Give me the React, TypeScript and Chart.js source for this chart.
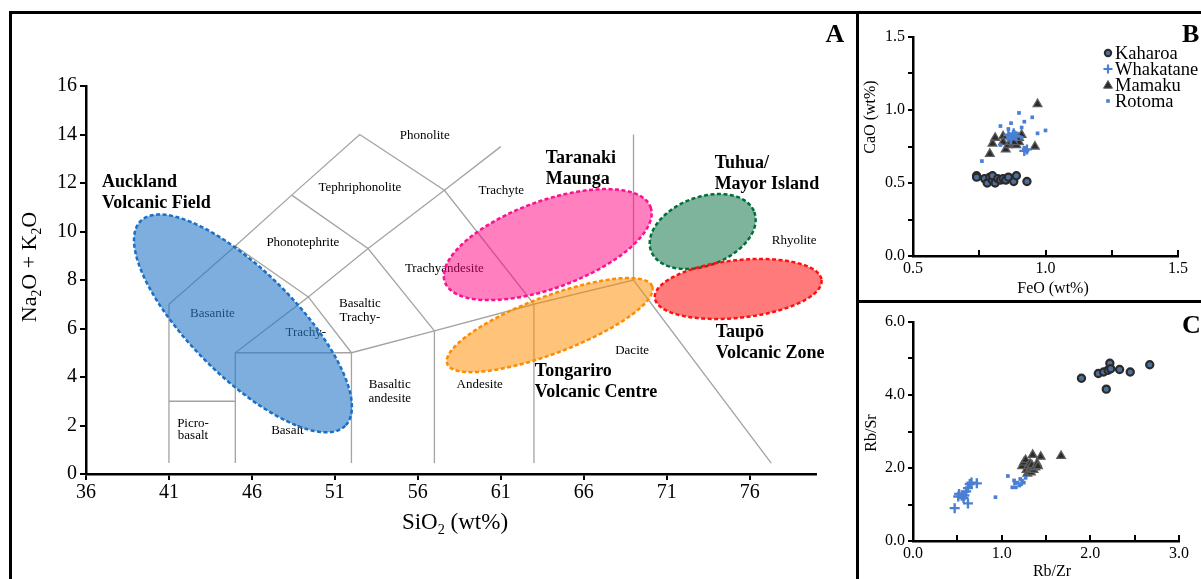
import React, { useEffect, useRef } from "react";
import { Chart, registerables } from "chart.js";
Chart.register(...registerables);

const SERIF = "'Liberation Serif', 'Times New Roman', Times, serif";

// ---------- Panel A : TAS diagram ----------
const TAS_X_TICKS = [36, 41, 46, 51, 56, 61, 66, 71, 76];
const TAS_Y_TICKS = [0, 2, 4, 6, 8, 10, 12, 14, 16];

const TAS_BOUNDARIES: number[][][] = [
  [[41, 0.45], [41, 7], [45, 9.4], [48.4, 11.5], [52.5, 14], [57.6, 11.7], [63, 7], [69, 8], [77.3, 0.45]],
  [[41, 3], [45, 3]],
  [[45, 0.45], [45, 5], [52, 5], [52, 0.45]],
  [[45, 5], [49.4, 7.3], [52, 5]],
  [[45, 9.4], [49.4, 7.3], [53, 9.3], [57.6, 11.7], [61, 13.5]],
  [[48.4, 11.5], [53, 9.3], [57, 5.9]],
  [[52, 5], [57, 5.9], [63, 7]],
  [[57, 0.45], [57, 5.9]],
  [[63, 0.45], [63, 7]],
  [[69, 8], [69, 14]],
];

const FIELD_NAMES = ["Phonolite", "Tephriphonolite", "Phonotephrite", "Trachyte", "Trachyandesite", "Basaltic", "Trachy-", "Trachy-", "Basanite", "Picro-", "basalt", "Basalt", "Basaltic", "andesite", "Andesite", "Dacite", "Rhyolite"];
const FIELD_SIO2 = [56.42, 52.51, 49.07, 61.03, 57.6, 52.51, 52.51, 49.25, 43.62, 42.45, 42.45, 48.14, 54.31, 54.31, 59.73, 68.92, 78.68];
const FIELD_ALK = [13.94, 11.81, 9.54, 11.67, 8.49, 7.01, 6.46, 5.83, 6.63, 2.09, 1.57, 1.77, 3.67, 3.09, 3.67, 5.07, 9.61];

const GROUP_NAMES = [["Auckland", "Volcanic Field"], ["Taranaki", "Maunga"], ["Tuhua/", "Mayor Island"], ["Taupō", "Volcanic Zone"], ["Tongariro", "Volcanic Centre"]];
const GROUP_SIO2 = [36.96, 63.71, 73.89, 73.95, 63.05];
const GROUP_ALK = [12.04, 13.03, 12.82, 5.86, 4.25];

// ellipses: centre and two conjugate semi-diameters (data units)
const ELLIPSE_CENTRES = [[45.46, 6.21], [63.83, 9.46], [73.17, 10.0], [75.31, 7.63], [63.95, 6.14]];
const ELLIPSE_U = [[6.17, -4.22], [6.2, 1.544], [3.108, 0.808], [5.025, 0.368], [6.176, 1.598]];
const ELLIPSE_V = [[-2.25, -1.54], [0.898, -1.69], [0.7316, -1.318], [0.1844, -1.181], [0.607, -1.099]];
const ELLIPSE_FILLS = ["rgba(40,120,200,0.6)", "rgba(255,0,128,0.5)", "rgba(0,106,58,0.5)", "rgba(255,0,0,0.52)", "rgba(255,140,0,0.52)"];
const ELLIPSE_STROKES = ["#1a6fc6", "#ff0f8f", "#00703a", "#ff1010", "#ff8c00"];

// ---------- Panel B : FeO vs CaO ----------
const B_KAHAROA_FEO = [0.74, 0.74, 0.77, 0.78, 0.79, 0.8, 0.8, 0.81, 0.82, 0.83, 0.84, 0.85, 0.86, 0.88, 0.89, 0.93];
const B_KAHAROA_CAO = [0.55, 0.54, 0.53, 0.5, 0.54, 0.52, 0.55, 0.5, 0.53, 0.52, 0.53, 0.52, 0.54, 0.51, 0.55, 0.51];
const B_WHAKATANE_FEO = [0.86, 0.88, 0.87, 0.92, 0.93, 0.89];
const B_WHAKATANE_CAO = [0.83, 0.84, 0.8, 0.72, 0.73, 0.82];
const B_MAMAKU_FEO = [0.79, 0.8, 0.81, 0.84, 0.84, 0.85, 0.86, 0.87, 0.88, 0.88, 0.89, 0.89, 0.9, 0.9, 0.91, 0.88, 0.96, 0.97];
const B_MAMAKU_CAO = [0.7, 0.77, 0.81, 0.82, 0.78, 0.73, 0.76, 0.78, 0.8, 0.77, 0.79, 0.76, 0.78, 0.81, 0.83, 0.78, 0.75, 1.04];
const B_ROTOMA_FEO = [0.76, 0.83, 0.86, 0.87, 0.9, 0.91, 0.92, 0.95, 0.97, 1.0, 0.93, 0.92, 0.86, 0.88, 0.83, 0.91];
const B_ROTOMA_CAO = [0.65, 0.89, 0.87, 0.91, 0.98, 0.88, 0.92, 0.95, 0.84, 0.86, 0.72, 0.74, 0.82, 0.85, 0.76, 0.81];

// ---------- Panel C : Rb/Zr vs Rb/Sr ----------
const C_KAHAROA_RBZR = [1.9, 2.09, 2.15, 2.2, 2.22, 2.23, 2.18, 2.33, 2.45, 2.67];
const C_KAHAROA_RBSR = [4.46, 4.59, 4.63, 4.68, 4.87, 4.72, 4.16, 4.7, 4.63, 4.83];
const C_WHAKATANE_RBZR = [0.47, 0.51, 0.52, 0.55, 0.57, 0.58, 0.6, 0.62, 0.62, 0.64, 0.66, 0.72];
const C_WHAKATANE_RBSR = [0.9, 1.22, 1.29, 1.24, 1.18, 1.25, 1.36, 1.03, 1.45, 1.56, 1.6, 1.58];
const C_MAMAKU_RBZR = [1.23, 1.25, 1.27, 1.28, 1.29, 1.3, 1.31, 1.32, 1.33, 1.33, 1.34, 1.35, 1.36, 1.38, 1.4, 1.41, 1.44, 1.67];
const C_MAMAKU_RBSR = [2.05, 2.15, 2.22, 1.95, 1.85, 2.05, 1.9, 2.12, 1.98, 1.88, 2.08, 2.36, 1.95, 2.02, 2.12, 2.05, 2.31, 2.33];
const C_ROTOMA_RBZR = [0.93, 1.07, 1.12, 1.14, 1.15, 1.16, 1.18, 1.2, 1.21, 1.22, 1.23, 1.25, 1.27];
const C_ROTOMA_RBSR = [1.2, 1.78, 1.47, 1.66, 1.58, 1.47, 1.6, 1.52, 1.7, 1.56, 1.65, 1.6, 1.73];

const LEGEND_NAMES = ["Kaharoa", "Whakatane", "Mamaku", "Rotoma"];

const zip = (xs: number[], ys: number[]) => xs.map((x, i) => ({ x, y: ys[i] }));

type Part = { t: string; sub?: boolean };
function drawRich(ctx: CanvasRenderingContext2D, parts: Part[], x: number, y: number, size: number, rotate: boolean) {
  ctx.save();
  ctx.translate(x, y);
  if (rotate) ctx.rotate(-Math.PI / 2);
  const subSize = size * 0.62;
  const widths = parts.map((p) => {
    ctx.font = `${p.sub ? subSize : size}px ${SERIF}`;
    return ctx.measureText(p.t).width;
  });
  const total = widths.reduce((a, b) => a + b, 0);
  let cx = -total / 2;
  ctx.textBaseline = "middle";
  ctx.textAlign = "left";
  ctx.fillStyle = "#000";
  parts.forEach((p, i) => {
    ctx.font = `${p.sub ? subSize : size}px ${SERIF}`;
    ctx.fillText(p.t, cx, p.sub ? size * 0.33 : 0);
    cx += widths[i];
  });
  ctx.restore();
}

const axisBase = (fontSize: number) => ({
  border: { display: true, color: "#000", width: 2.5 },
  ticks: { color: "#000", font: { family: SERIF, size: fontSize }, autoSkip: false, maxRotation: 0 },
});

function buildA(): any {
  const annot = {
    id: "tasAnnot",
    afterDatasetsDraw(chart: any) {
      const { ctx, scales } = chart;
      const xs = scales.x, ys = scales.y;
      ctx.save();
      ctx.fillStyle = "#000";
      ctx.textAlign = "center";
      ctx.textBaseline = "middle";
      ctx.font = `13px ${SERIF}`;
      FIELD_NAMES.forEach((n, i) => ctx.fillText(n, xs.getPixelForValue(FIELD_SIO2[i]), ys.getPixelForValue(FIELD_ALK[i])));
      ELLIPSE_CENTRES.forEach((c, k) => {
        const u = ELLIPSE_U[k], v = ELLIPSE_V[k];
        ctx.beginPath();
        const N = 160;
        for (let i = 0; i <= N; i++) {
          const t = (i / N) * Math.PI * 2;
          const dx = c[0] + u[0] * Math.cos(t) + v[0] * Math.sin(t);
          const dy = c[1] + u[1] * Math.cos(t) + v[1] * Math.sin(t);
          const px = xs.getPixelForValue(dx), py = ys.getPixelForValue(dy);
          if (i === 0) ctx.moveTo(px, py); else ctx.lineTo(px, py);
        }
        ctx.closePath();
        ctx.fillStyle = ELLIPSE_FILLS[k];
        ctx.fill();
        ctx.setLineDash([4, 2.5]);
        ctx.lineWidth = 2.5;
        ctx.strokeStyle = ELLIPSE_STROKES[k];
        ctx.stroke();
        ctx.setLineDash([]);
      });
      ctx.fillStyle = "#000";
      ctx.textAlign = "left";
      ctx.font = `bold 18px ${SERIF}`;
      GROUP_NAMES.forEach((lines, i) => {
        const px = xs.getPixelForValue(GROUP_SIO2[i]);
        const py = ys.getPixelForValue(GROUP_ALK[i]);
        lines.forEach((l, j) => ctx.fillText(l, px, py + j * 21.5));
      });
      ctx.font = `bold 26px ${SERIF}`;
      ctx.textAlign = "center";
      ctx.fillText("A", 823, 21);
      ctx.restore();
      const ca = chart.chartArea;
      drawRich(ctx, [{ t: "Na" }, { t: "2", sub: true }, { t: "O + K" }, { t: "2", sub: true }, { t: "O" }], ca.left - 56, (ca.top + ca.bottom) / 2 - 13, 22, true);
      drawRich(ctx, [{ t: "SiO" }, { t: "2", sub: true }, { t: " (wt%)" }], 443, ca.bottom + 49, 23, false);
    },
  };
  return {
    type: "scatter",
    data: {
      datasets: TAS_BOUNDARIES.map((seg) => ({
        data: seg.map((p) => ({ x: p[0], y: p[1] })),
        showLine: true,
        borderColor: "#a3a3a3",
        borderWidth: 1.3,
        pointRadius: 0,
        tension: 0,
        fill: false,
      })),
    },
    options: {
      responsive: false,
      animation: false,
      events: [],
      layout: { padding: { left: 24, right: 39, top: 72, bottom: 65 }, autoPadding: false },
      plugins: { legend: { display: false }, tooltip: { enabled: false } },
      scales: {
        x: {
          type: "linear",
          min: 36,
          max: 80,
          ...axisBase(20),
          ticks: { ...axisBase(20).ticks, padding: 1 },
          grid: { display: true, drawOnChartArea: false, drawTicks: true, tickLength: 6, tickColor: "#000", lineWidth: 2 },
          afterBuildTicks: (s: any) => { s.ticks = TAS_X_TICKS.map((v) => ({ value: v })); },
          afterFit: (s: any) => { s.height = 40; },
        },
        y: {
          type: "linear",
          min: 0,
          max: 16,
          ...axisBase(20),
          ticks: { ...axisBase(20).ticks, padding: 3 },
          grid: { display: true, drawOnChartArea: false, drawTicks: true, tickLength: 6, tickColor: "#000", lineWidth: 2 },
          afterBuildTicks: (s: any) => { s.ticks = TAS_Y_TICKS.map((v) => ({ value: v })); },
          afterFit: (s: any) => { s.width = 50; },
        },
      },
    },
    plugins: [annot],
  };
}

function scatterDatasets(k: any[], w: any[], m: any[], r: any[]) {
  return [
    { label: "Rotoma", data: r, pointStyle: "rect", pointRadius: 2.6, backgroundColor: "#4a7fd4", borderColor: "#4a7fd4", borderWidth: 0 },
    { label: "Whakatane", data: w, pointStyle: "cross", pointRadius: 5, backgroundColor: "#4a7fd4", borderColor: "#4a7fd4", borderWidth: 2.4 },
    { label: "Mamaku", data: m, pointStyle: "triangle", pointRadius: 5, backgroundColor: "#2b2b2b", borderColor: "#5e5e5e", borderWidth: 1.3 },
    { label: "Kaharoa", data: k, pointStyle: "circle", pointRadius: 3.6, backgroundColor: "#4d6f9a", borderColor: "#2a2a2a", borderWidth: 2.2 },
  ];
}

function drawMarker(ctx: CanvasRenderingContext2D, kind: number, x: number, y: number) {
  ctx.save();
  if (kind === 0) {
    ctx.beginPath(); ctx.arc(x, y, 3.2, 0, Math.PI * 2);
    ctx.fillStyle = "#4d6f9a"; ctx.fill(); ctx.lineWidth = 2; ctx.strokeStyle = "#2a2a2a"; ctx.stroke();
  } else if (kind === 1) {
    ctx.strokeStyle = "#4a7fd4"; ctx.lineWidth = 2.2;
    ctx.beginPath(); ctx.moveTo(x - 4.5, y); ctx.lineTo(x + 4.5, y); ctx.moveTo(x, y - 4.5); ctx.lineTo(x, y + 4.5); ctx.stroke();
  } else if (kind === 2) {
    ctx.beginPath(); ctx.moveTo(x, y - 4.5); ctx.lineTo(x + 4.5, y + 3.2); ctx.lineTo(x - 4.5, y + 3.2); ctx.closePath();
    ctx.fillStyle = "#2b2b2b"; ctx.fill(); ctx.strokeStyle = "#5e5e5e"; ctx.lineWidth = 1; ctx.stroke();
  } else {
    ctx.fillStyle = "#4a7fd4"; ctx.fillRect(x - 1.8, y - 1.8, 3.6, 3.6);
  }
  ctx.restore();
}

function inwardTicks(chart: any) {
  const xs = chart.scales.x, ctx = chart.ctx, b = chart.chartArea.bottom;
  ctx.save();
  ctx.strokeStyle = "#000";
  ctx.lineWidth = 2;
  xs.ticks.forEach((t: any) => {
    const px = Math.round(xs.getPixelForValue(t.value));
    ctx.beginPath(); ctx.moveTo(px, b); ctx.lineTo(px, b - 6); ctx.stroke();
  });
  ctx.restore();
}

function smallScatter(datasets: any[], xr: number[], yr: number[], xStep: number, yStep: number, xLab: number, yLab: number, pad: any, extra: (chart: any) => void): any {
  const lab = (every: number) => (v: any) => {
    const n = Number(v) / every;
    return Math.abs(n - Math.round(n)) < 1e-6 ? Number(v).toFixed(1) : "";
  };
  return {
    type: "scatter",
    data: { datasets },
    options: {
      responsive: false,
      animation: false,
      events: [],
      layout: { padding: pad, autoPadding: false },
      plugins: { legend: { display: false }, tooltip: { enabled: false } },
      scales: {
        x: {
          type: "linear", min: xr[0], max: xr[1],
          ...axisBase(16),
          ticks: { ...axisBase(16).ticks, stepSize: xStep, padding: 3, callback: lab(xLab) },
          grid: { display: false, drawTicks: false, tickLength: 0 },
          afterFit: (s: any) => { s.height = 30; },
        },
        y: {
          type: "linear", min: yr[0], max: yr[1],
          ...axisBase(16),
          ticks: { ...axisBase(16).ticks, stepSize: yStep, padding: 3, callback: lab(yLab) },
          grid: { display: true, drawOnChartArea: false, drawTicks: true, tickLength: 5, tickColor: "#000", lineWidth: 2 },
          afterFit: (s: any) => { s.width = 40; },
        },
      },
    },
    plugins: [{ id: "extra", afterDraw: (chart: any) => { inwardTicks(chart); extra(chart); } }],
  };
}

function buildB(): any {
  const ds = scatterDatasets(zip(B_KAHAROA_FEO, B_KAHAROA_CAO), zip(B_WHAKATANE_FEO, B_WHAKATANE_CAO), zip(B_MAMAKU_FEO, B_MAMAKU_CAO), zip(B_ROTOMA_FEO, B_ROTOMA_CAO));
  return smallScatter(ds, [0.5, 1.5], [0, 1.5], 0.25, 0.25, 0.5, 0.5, { left: 14, right: 23, top: 23, bottom: 14 }, (chart) => {
    const ctx = chart.ctx;
    drawRich(ctx, [{ t: "CaO (wt%)" }], 12, 103, 16, true);
    drawRich(ctx, [{ t: "FeO (wt%)" }], 194, 275, 16, false);
    ctx.save();
    ctx.fillStyle = "#000";
    ctx.font = `bold 26px ${SERIF}`;
    ctx.textAlign = "left";
    ctx.textBaseline = "middle";
    ctx.fillText("B", 323, 21);
    ctx.font = `18.5px ${SERIF}`;
    LEGEND_NAMES.forEach((n, i) => {
      const y = 39 + i * 16;
      drawMarker(ctx, i, 249, y);
      ctx.fillStyle = "#000";
      ctx.fillText(n, 256, y + 1);
    });
    ctx.restore();
  });
}

function buildC(): any {
  const ds = scatterDatasets(zip(C_KAHAROA_RBZR, C_KAHAROA_RBSR), zip(C_WHAKATANE_RBZR, C_WHAKATANE_RBSR), zip(C_MAMAKU_RBZR, C_MAMAKU_RBSR), zip(C_ROTOMA_RBZR, C_ROTOMA_RBSR));
  return smallScatter(ds, [0, 3], [0, 6], 0.5, 1, 1, 2, { left: 14, right: 22, top: 19, bottom: 8 }, (chart) => {
    const ctx = chart.ctx;
    drawRich(ctx, [{ t: "Rb/Sr" }], 13, 130, 16, true);
    drawRich(ctx, [{ t: "Rb/Zr" }], 193, 269, 16, false);
    ctx.save();
    ctx.fillStyle = "#000";
    ctx.font = `bold 26px ${SERIF}`;
    ctx.textAlign = "left";
    ctx.textBaseline = "middle";
    ctx.fillText("C", 323, 23);
    ctx.restore();
  });
}

export default function App() {
  const refA = useRef<HTMLCanvasElement>(null);
  const refB = useRef<HTMLCanvasElement>(null);
  const refC = useRef<HTMLCanvasElement>(null);
  useEffect(() => {
    const a = new Chart(refA.current!, buildA());
    const b = new Chart(refB.current!, buildB());
    const c = new Chart(refC.current!, buildC());
    return () => { a.destroy(); b.destroy(); c.destroy(); };
  }, []);
  const abs = (l: number, t: number, w: number, h: number): React.CSSProperties => ({ position: "absolute", left: l, top: t, width: w, height: h });
  return (
    <div style={{ position: "fixed", left: 0, top: 0, width: 1201, height: 579, background: "#fff", overflow: "hidden" }}>
      <div style={{ ...abs(9, 11, 1192, 3), background: "#000" }} />
      <div style={{ ...abs(9, 11, 3, 568), background: "#000" }} />
      <div style={{ ...abs(856, 11, 3, 568), background: "#000" }} />
      <div style={{ ...abs(856, 300, 345, 3), background: "#000" }} />
      <canvas ref={refA} width={843} height={565} style={{ ...abs(12, 14, 843, 565), display: "block" }} />
      <canvas ref={refB} width={342} height={286} style={{ ...abs(859, 14, 342, 286), display: "block" }} />
      <canvas ref={refC} width={342} height={276} style={{ ...abs(859, 303, 342, 276), display: "block" }} />
    </div>
  );
}
